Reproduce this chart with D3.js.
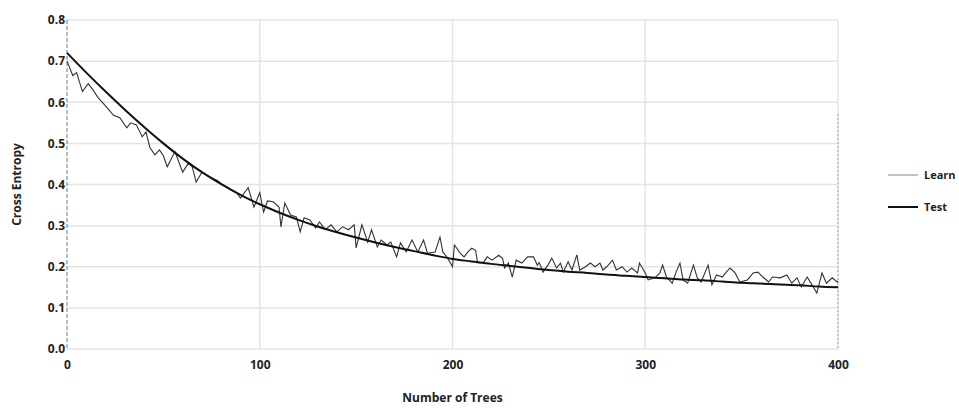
<!DOCTYPE html>
<html>
<head>
<meta charset="utf-8">
<script src="https://cdn.jsdelivr.net/npm/d3@7"></script>
<style>
  body { margin: 0; background: #fff; }
  text { font-family: "Open Sans", "DejaVu Sans", sans-serif; }
</style>
</head>
<body>
<div id="vis"></div>
<script>
// data
const TEST_TREES = [0, 10, 20, 30, 40, 50, 60, 70, 80, 90, 100, 110, 120, 130, 140, 150, 160, 170, 180, 190, 200,
                    210, 220, 230, 240, 250, 260, 270, 280, 290, 300, 310, 320, 330, 340, 350, 360, 370, 380, 390, 400];
const TEST_VALUES = [0.720, 0.672, 0.626, 0.582, 0.540, 0.500, 0.463, 0.430, 0.401, 0.375, 0.352, 0.332, 0.314, 0.298,
                     0.284, 0.271, 0.259, 0.248, 0.238, 0.228, 0.219, 0.213, 0.207, 0.202, 0.197, 0.192, 0.188, 0.185,
                     0.181, 0.178, 0.175, 0.172, 0.169, 0.167, 0.164, 0.161, 0.159, 0.157, 0.155, 0.152, 0.150];

const LEARN_TREES = [0, 3, 5, 8, 11, 13.5, 16, 18.7, 22, 24, 27.5, 31, 33, 36, 39, 41, 43, 45.6, 48, 50,
                     52, 56, 60, 63, 65, 67, 70, 74, 78, 80, 83, 86, 88, 90, 94, 97, 100, 102, 104, 107,
                     110, 111, 113, 116, 119, 121, 123, 126, 129, 131, 134, 137, 140, 143, 146, 149, 150, 153, 156, 158,
                     161, 163, 166, 168, 171, 173, 176, 179, 182, 185, 187, 191, 193.5, 195, 197.5, 200, 201, 204, 206, 208,
                     210, 212, 213, 216, 218, 220.5, 224, 226, 227, 229, 231, 233, 236, 239, 242, 244, 245, 247, 249.5, 251.5,
                     254, 256, 257.5, 260, 262, 264.5, 266, 269, 271.5, 274, 276.5, 278, 280, 283, 285, 288, 290.5, 293, 296, 297,
                     300, 301.5, 305, 307.6, 309, 311, 314, 316, 318, 319.6, 322, 325, 327, 329, 332.6, 334.6, 337, 340, 342, 344,
                     346.6, 349, 353, 356, 358.5, 361, 364, 366, 370, 373.5, 376, 378.7, 381, 384, 386.5, 389, 391.7, 394, 397, 399.5, 400];
const LEARN_VALUES = [0.700, 0.665, 0.672, 0.626, 0.645, 0.630, 0.612, 0.598, 0.580, 0.569, 0.562, 0.538, 0.550, 0.545, 0.516, 0.528, 0.490, 0.472, 0.484, 0.470,
                      0.443, 0.480, 0.430, 0.452, 0.443, 0.406, 0.430, 0.418, 0.410, 0.402, 0.394, 0.385, 0.380, 0.367, 0.392, 0.345, 0.380, 0.333, 0.360, 0.358,
                      0.345, 0.297, 0.355, 0.326, 0.321, 0.285, 0.319, 0.314, 0.294, 0.309, 0.290, 0.302, 0.285, 0.297, 0.290, 0.302, 0.246, 0.302, 0.260, 0.290,
                      0.248, 0.265, 0.253, 0.260, 0.224, 0.258, 0.236, 0.265, 0.236, 0.265, 0.233, 0.236, 0.272, 0.236, 0.221, 0.200, 0.253, 0.233, 0.224, 0.236,
                      0.245, 0.240, 0.210, 0.210, 0.224, 0.216, 0.228, 0.220, 0.197, 0.209, 0.175, 0.216, 0.209, 0.224, 0.224, 0.204, 0.210, 0.187, 0.204, 0.221,
                      0.197, 0.209, 0.187, 0.212, 0.192, 0.229, 0.192, 0.200, 0.209, 0.200, 0.209, 0.192, 0.200, 0.216, 0.192, 0.200, 0.187, 0.197, 0.185, 0.209,
                      0.185, 0.168, 0.173, 0.185, 0.204, 0.175, 0.160, 0.187, 0.209, 0.168, 0.160, 0.204, 0.173, 0.163, 0.204, 0.156, 0.180, 0.175, 0.187, 0.197,
                      0.185, 0.163, 0.168, 0.185, 0.187, 0.175, 0.163, 0.175, 0.173, 0.180, 0.160, 0.173, 0.151, 0.175, 0.156, 0.136, 0.185, 0.160, 0.173, 0.163, 0.165];

const X_TICKS = [0, 100, 200, 300, 400];
const Y_TICKS = [0.0, 0.1, 0.2, 0.3, 0.4, 0.5, 0.6, 0.7, 0.8];
const SERIES_NAMES = ['Learn', 'Test'];

// setting up the basics
const FRAME_WIDTH = 959;
const FRAME_HEIGHT = 408;
const MARGINS = {left: 67, right: 121, top: 20, bottom: 59};
const VIS_WIDTH = FRAME_WIDTH - MARGINS.left - MARGINS.right;
const VIS_HEIGHT = FRAME_HEIGHT - MARGINS.top - MARGINS.bottom;

const FRAME = d3.select('#vis')
                .append('svg')
                    .attr('width', FRAME_WIDTH)
                    .attr('height', FRAME_HEIGHT);

const X_SCALE = d3.scaleLinear().domain([0, 400]).range([0, VIS_WIDTH]);
const Y_SCALE = d3.scaleLinear().domain([0, 0.8]).range([VIS_HEIGHT, 0]);

const PLOT = FRAME.append('g')
    .attr('transform', 'translate(' + MARGINS.left + ',' + MARGINS.top + ')');

// gridlines
PLOT.selectAll('.hgrid')
    .data(Y_TICKS)
    .enter()
    .append('line')
    .attr('x1', 0)
    .attr('x2', VIS_WIDTH)
    .attr('y1', d => Y_SCALE(d))
    .attr('y2', d => Y_SCALE(d))
    .attr('stroke', '#e4e4e4')
    .attr('stroke-width', 1.5);

PLOT.selectAll('.vgrid')
    .data(X_TICKS.slice(1))
    .enter()
    .append('line')
    .attr('x1', d => X_SCALE(d))
    .attr('x2', d => X_SCALE(d))
    .attr('y1', 0)
    .attr('y2', VIS_HEIGHT)
    .attr('stroke', '#e4e4e4')
    .attr('stroke-width', 1.5);

// right edge dotted
PLOT.append('line')
    .attr('x1', X_SCALE(400)).attr('x2', X_SCALE(400))
    .attr('y1', Y_SCALE(0.57)).attr('y2', Y_SCALE(0))
    .attr('stroke', '#666')
    .attr('stroke-dasharray', '1,3');

// left axis (dashed look)
PLOT.append('line')
    .attr('x1', 0).attr('x2', 0)
    .attr('y1', 0).attr('y2', VIS_HEIGHT)
    .attr('stroke', '#777')
    .attr('stroke-dasharray', '4,2');

// lines
const LINE = d3.line()
    .x(d => X_SCALE(d[0]))
    .y(d => Y_SCALE(d[1]));

PLOT.append('path')
    .datum(LEARN_TREES.map((t, i) => [t, LEARN_VALUES[i]]))
    .attr('d', LINE)
    .attr('fill', 'none')
    .attr('stroke', '#333')
    .attr('stroke-width', 1.1);

PLOT.append('path')
    .datum(TEST_TREES.map((t, i) => [t, TEST_VALUES[i]]))
    .attr('d', LINE.curve(d3.curveMonotoneX))
    .attr('fill', 'none')
    .attr('stroke', '#111')
    .attr('stroke-width', 2);

// y axis
const Y_AXIS = PLOT.append('g')
    .call(d3.axisLeft(Y_SCALE).tickValues(Y_TICKS).tickFormat(d3.format('.1f')).tickSize(0).tickPadding(2));
Y_AXIS.select('.domain').remove();
Y_AXIS.selectAll('text')
    .attr('font-size', '12px')
    .attr('font-weight', 'bold')
    .attr('fill', '#222');

// x axis
const X_AXIS = PLOT.append('g')
    .attr('transform', 'translate(0,' + VIS_HEIGHT + ')')
    .call(d3.axisBottom(X_SCALE).tickValues(X_TICKS).tickSize(0).tickPadding(11));
X_AXIS.select('.domain').remove();
X_AXIS.selectAll('text')
    .attr('font-size', '12px')
    .attr('font-weight', 'bold')
    .attr('fill', '#222');

// axis titles
FRAME.append('text')
    .attr('x', MARGINS.left + X_SCALE(200))
    .attr('y', 402)
    .attr('text-anchor', 'middle')
    .attr('font-size', '12px')
    .attr('font-weight', 'bold')
    .attr('fill', '#222')
    .text('Number of Trees');

FRAME.append('text')
    .attr('transform', 'translate(21,' + (MARGINS.top + Y_SCALE(0.4)) + ') rotate(-90)')
    .attr('text-anchor', 'middle')
    .attr('font-size', '12px')
    .attr('font-weight', 'bold')
    .attr('fill', '#222')
    .text('Cross Entropy');

// legend
const LEGEND = FRAME.append('g').attr('transform', 'translate(888,175)');
const LEGEND_COLORS = ['#c4c4c4', '#111'];
const LEGEND_WIDTHS = [2, 2];

LEGEND.selectAll('line')
    .data(SERIES_NAMES)
    .enter()
    .append('line')
    .attr('x1', 0)
    .attr('x2', 30)
    .attr('y1', (d, i) => i * 32)
    .attr('y2', (d, i) => i * 32)
    .attr('stroke', (d, i) => LEGEND_COLORS[i])
    .attr('stroke-width', (d, i) => LEGEND_WIDTHS[i]);

LEGEND.selectAll('text')
    .data(SERIES_NAMES)
    .enter()
    .append('text')
    .attr('x', 36)
    .attr('y', (d, i) => i * 32 + 4)
    .attr('font-size', '11px')
    .attr('font-weight', 'bold')
    .attr('fill', '#222')
    .text(d => d);
</script>
</body>
</html>
